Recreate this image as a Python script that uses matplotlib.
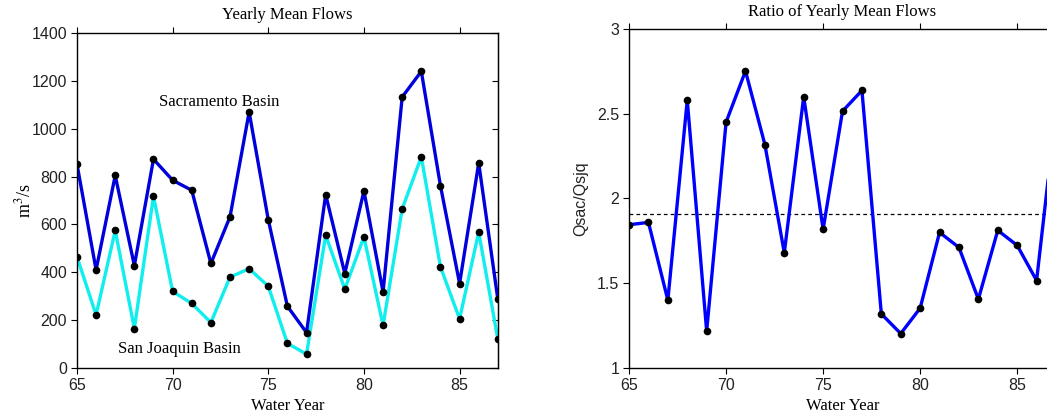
import matplotlib
matplotlib.use("Agg")
import matplotlib.pyplot as plt

plt.rcParams["font.family"] = ["Liberation Serif", "DejaVu Serif"]
plt.rcParams["font.size"] = 11.5
plt.rcParams["mathtext.fontset"] = "stix"

years = list(range(65, 88))
sac_flow = [853, 410, 805, 428, 873, 785, 743, 437, 632, 1070, 620, 258,
            148, 725, 395, 740, 318, 1133, 1240, 762, 353, 857, 287]
sjq_flow = [465, 222, 575, 165, 718, 320, 270, 190, 380, 415, 342, 103,
            58, 555, 330, 548, 178, 665, 883, 423, 205, 568, 120]
ratio = [1.845, 1.859, 1.40, 2.58, 1.217, 2.45, 2.752, 2.318, 1.68, 2.60,
         1.818, 2.515, 2.637, 1.319, 1.203, 1.353, 1.80, 1.711, 1.406, 1.812,
         1.723, 1.516, 2.52]
ratio_mean = 1.91

x_ticks = [65, 70, 75, 80, 85]
sans = ["Liberation Sans", "DejaVu Sans"]


def style_axes(ax, right_ticks):
    ax.tick_params(axis="both", direction="out", length=4, width=0.8,
                   top=True, right=False, labelsize=11.5, pad=3,
                   labelcolor="#222222")
    for lab in ax.get_xticklabels() + ax.get_yticklabels():
        lab.set_family(sans)
    for s in ax.spines.values():
        s.set_linewidth(1.0)
    if right_ticks is not None:
        sec = ax.secondary_yaxis("right")
        sec.set_yticks(right_ticks)
        sec.tick_params(direction="in", length=4, width=0.8, labelright=False)


fig = plt.figure(figsize=(10.47, 4.16), dpi=100)

# left panel: yearly mean flows
ax1 = fig.add_axes([0.0735, 0.1154, 0.402, 0.805])
ax1.plot(years, sjq_flow, color="#10eeee", linewidth=2.4, zorder=2)
ax1.plot(years, sac_flow, color="#0000dd", linewidth=2.4, zorder=2)
ax1.plot(years, sjq_flow, "o", color="black", markersize=4.5, zorder=3)
ax1.plot(years, sac_flow, "o", color="black", markersize=4.5, zorder=3)
ax1.set_xlim(65, 87)
ax1.set_ylim(0, 1400)
ax1.set_xticks(x_ticks)
ax1.set_yticks(range(0, 1401, 200))
ax1.text(72.42, 1112, "Sacramento Basin", ha="center", va="center", fontsize=12)
ax1.text(70.33, 79, "San Joaquin Basin", ha="center", va="center", fontsize=12)
ax1.set_title("Yearly Mean Flows", fontsize=12, pad=10)
ax1.set_xlabel("Water Year", fontsize=12, labelpad=4)
ax1.set_ylabel("m$^3$/s", fontsize=13, labelpad=-2)
style_axes(ax1, list(range(0, 1401, 200)))

# right panel: ratio (extends past the right edge like the original)
ax2 = fig.add_axes([0.6008, 0.1154, 0.4078, 0.815])
ax2.axhline(ratio_mean, color="black", linestyle=(0, (3, 2.5)), linewidth=0.9)
ax2.plot(years, ratio, color="blue", linewidth=2.4, zorder=2)
ax2.plot(years, ratio, "o", color="black", markersize=4.5, zorder=3)
ax2.set_xlim(65, 87)
ax2.set_ylim(1, 3)
ax2.set_xticks(x_ticks)
ax2.set_yticks([1, 1.5, 2, 2.5, 3])
ax2.set_yticklabels(["1", "1.5", "2", "2.5", "3"])
ax2.set_title("Ratio of Yearly Mean Flows", fontsize=12, pad=9)
ax2.set_xlabel("Water Year", fontsize=12, labelpad=4)
ax2.set_ylabel("Qsac/Qsjq", fontsize=11.5, labelpad=6, family=sans,
               color="#222222")
style_axes(ax2, None)

fig.savefig("out.png", dpi=100)
